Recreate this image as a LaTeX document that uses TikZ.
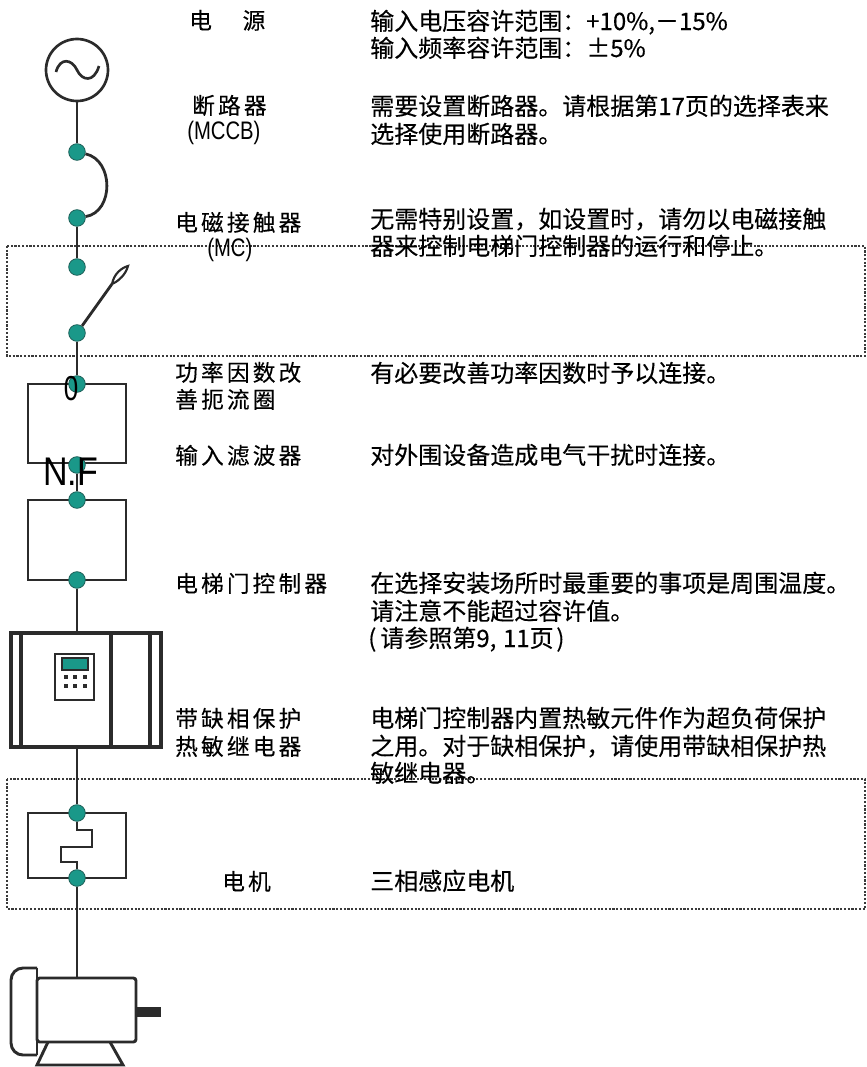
\documentclass[tikz,border=0pt]{standalone}
\usepackage{fontspec}
\newfontfamily\cjkdesc[FakeBold=0.3]{Noto Sans CJK SC}
\newfontfamily\cjklabel[LetterSpace=14,FakeBold=0.3]{Noto Sans CJK SC}
\newfontfamily\latin{Liberation Sans}
\definecolor{ink}{HTML}{2B2B2B}
\definecolor{termfill}{HTML}{1A9889}
\definecolor{termedge}{HTML}{1F5F58}
\definecolor{frameink}{HTML}{3A3A3A}

\begin{document}
\begin{tikzpicture}[x=0.75pt,y=-0.75pt,
  wire/.style={draw=ink,line width=2.1pt},
  outline/.style={draw=ink,line width=2.2pt},
  term/.style={circle,fill=termfill,draw=termedge,line width=0.6pt,minimum size=12.5pt,inner sep=0pt},
  frame/.style={draw=frameink,line width=1.6pt,dash pattern=on 1.6pt off 1.2pt},
  lbl/.style={font=\cjklabel\fontsize{17}{20}\selectfont,anchor=base west,inner sep=0pt},
  abbr/.style={font=\latin\fontsize{19}{22}\selectfont,anchor=base west,inner sep=0pt},
  desc/.style={font=\cjkdesc\fontsize{18}{20}\selectfont,anchor=base west,inner sep=0pt}]

\useasboundingbox (0,0) rectangle (867,1067);

% dotted frames around the optional parts
\draw[frame] (7,246) rectangle (865,356);
\draw[frame] (7,779) rectangle (865,909);

% power source
\node[circle,draw=ink,line width=2pt,minimum size=46.5pt,inner sep=0pt] (src) at (77,70) {};
\draw[ink,line width=2pt] (56,72) .. controls (60,57) and (72,59) .. (77,70)
  .. controls (82,81) and (94,83) .. (99,66);

% boxes
\node[outline,rectangle,minimum width=73.5pt,minimum height=59.25pt,inner sep=0pt] (pfr) at (77,423.5) {};
\node[outline,rectangle,minimum width=73.5pt,minimum height=60pt,inner sep=0pt] (nf) at (77,540) {};
\node[draw=ink,line width=2.5pt,rectangle,minimum width=112.5pt,minimum height=85.5pt,inner sep=0pt] (ctrl) at (86,690) {};
\node[outline,rectangle,minimum width=73.5pt,minimum height=48.75pt,inner sep=0pt] (thr) at (77,845.5) {};
\node[outline,rectangle,rounded corners=2pt,minimum width=74.25pt,minimum height=48pt,inner sep=0pt] (motor) at (86.5,1010) {};

% controller front
\draw[draw=ink,line width=2.5pt] (21,633) -- (21,747) (111,633) -- (111,747) (150,633) -- (150,747);
\draw[ink,line width=1.2pt,fill=white] (55,654) rectangle (94,700);
\draw[ink,line width=0.8pt,fill=termfill] (62,658) rectangle (88,670);
\foreach \kx in {66,75,85} \foreach \ky in {677,686}
  \fill[ink] (\kx-1.6,\ky-1.6) rectangle (\kx+1.6,\ky+1.6);

% motor end cap, shaft and feet
\draw[outline,rounded corners=9pt] (37,968) -- (11,968) -- (11,1055) -- (37,1055);
\draw[outline] (37,968) -- (37,1055);
\fill[ink] (136,1007) rectangle (161,1017);
\draw[outline] (48,1042) -- (37,1065) -- (123,1065) -- (110,1042);

% terminals
\node[term] (t1) at (77,152) {};
\node[term] (t2) at (77,218) {};
\node[term] (t3) at (77,267) {};
\node[term] (t4) at (77,333) {};
\node[term] (t5) at (77,384) {};
\node[term] (t6) at (77,465) {};
\node[term] (t7) at (77,500) {};
\node[term] (t8) at (77,580) {};
\node[term] (t9) at (77,813) {};
\node[term] (t10) at (77,878) {};

% wiring
\draw[wire] (src) -- (t1);
\draw[wire] (t1) .. controls (114,160) and (114,212) .. (t2);
\draw[wire] (t2) -- (t3);
\coordinate (blade) at (112,284);
\draw[wire] (t4) -- (blade);
\draw[ink,line width=1.6pt] (blade) .. controls (114,274) and (121,268) .. (128,266)
  .. controls (126,274) and (119,281) .. (blade);
\draw[wire] (t4) -- (t5);
\draw[wire] (t6) -- (t7);
\draw[wire] (t8) -- (t8 |- ctrl.north);
\draw[wire] (t9 |- ctrl.south) -- (t9);
\draw[wire] (t9) -- (77,830) -- (92,830) -- (92,847) -- (61,847) -- (61,862) -- (77,862) -- (t10);
\draw[wire] (t10) -- (t10 |- motor.north);

% symbol marks
\node[font=\latin\fontsize{30}{32}\selectfont,anchor=base west,inner sep=0pt] (nftext) at (43,485) {\scalebox{0.85}[1]{N.F}};
\node[font=\latin\fontsize{26}{28}\selectfont,anchor=base,inner sep=0pt] (zero) at (71,400) {\scalebox{0.75}[1]{0}};

% component names
\node[lbl] (l1) at (189,29) {电\hspace{23pt}源};
\node[lbl] (l2) at (192,114) {断路器};
\node[abbr] (l2b) at (187,139) {\scalebox{0.8}[1]{(MCCB)}};
\node[lbl] (l3) at (175,231) {电磁接触器};
\node[abbr] (l3b) at (207,256) {\scalebox{0.8}[1]{(MC)}};
\node[lbl] (l4) at (175,381) {功率因数改};
\node[lbl] (l4b) at (175,408) {善扼流圈};
\node[lbl] (l5) at (175,464) {输入滤波器};
\node[lbl] (l6) at (175,592) {电梯门控制器};
\node[lbl] (l7) at (175,727) {带缺相保护};
\node[lbl] (l7b) at (175,755) {热敏继电器};
\node[lbl] (l8) at (222,890) {电机};

% descriptions
\node[desc] (d1a) at (370,30) {输入电压容许范围：+10\%,－15\%};
\node[desc] (d1b) at (370,57) {输入频率容许范围：±5\%};
\node[desc] (d2a) at (370,115) {需要设置断路器。请根据第17页的选择表来};
\node[desc] (d2b) at (370,143) {选择使用断路器。};
\node[desc] (d3a) at (370,228) {无需特别设置，如设置时，请勿以电磁接触};
\node[desc] (d3b) at (370,255) {器来控制电梯门控制器的运行和停止。};
\node[desc] (d4) at (370,382) {有必要改善功率因数时予以连接。};
\node[desc] (d5) at (370,464) {对外围设备造成电气干扰时连接。};
\node[desc] (d6a) at (370,592) {在选择安装场所时最重要的事项是周围温度。};
\node[desc] (d6b) at (370,620) {请注意不能超过容许值。};
\node[desc] (d6c) at (368,647) {(\hspace{3pt}请参照第9,\hspace{5pt}11页\hspace{2pt})};
\node[desc] (d7a) at (370,727) {电梯门控制器内置热敏元件作为超负荷保护};
\node[desc] (d7b) at (370,755) {之用。对于缺相保护，请使用带缺相保护热};
\node[desc] (d7c) at (370,782) {敏继电器。};
\node[desc] (d8) at (370,890) {三相感应电机};

\end{tikzpicture}
\end{document}
